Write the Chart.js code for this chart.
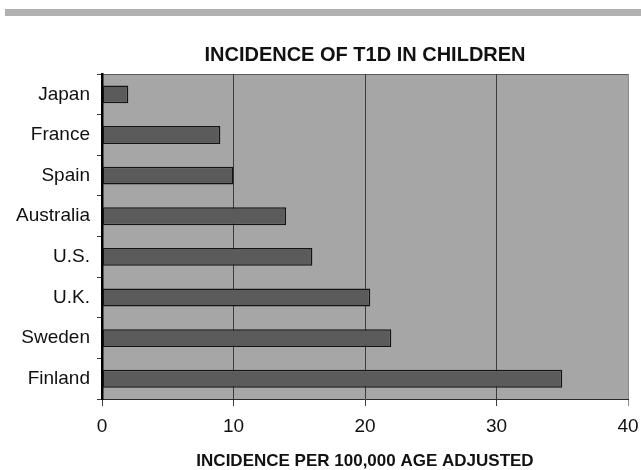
<!DOCTYPE html>
<html>
<head>
<meta charset="utf-8">
<script src="https://cdn.jsdelivr.net/npm/chart.js@4/dist/chart.umd.min.js"></script>
<style>
  html, body { margin: 0; padding: 0; background: #ffffff; }
  #wrap { position: relative; width: 641px; height: 470px; }
</style>
</head>
<body>
<div id="wrap"><canvas id="chart" width="641" height="470"></canvas></div>
<script>
// Type 1 diabetes incidence in children, per 100,000 (age adjusted)
const countries = ['Japan', 'France', 'Spain', 'Australia', 'U.S.', 'U.K.', 'Sweden', 'Finland'];
const incidence = [2, 9, 10, 14, 16, 20.4, 22, 35];
const xTicks = [0, 10, 20, 30, 40];
const chartTitle = 'INCIDENCE OF T1D IN CHILDREN';

const FONT = "'Liberation Sans', Arial, Helvetica, sans-serif";
const INK = '#111111';

// Header rule, grey plot panel with its top frame, and a title centred over the plot
const panelPlugin = {
  id: 'panel',
  beforeDraw(chart) {
    const ctx = chart.ctx;
    const a = chart.chartArea;
    ctx.save();
    ctx.fillStyle = '#b1b1b1';
    ctx.fillRect(5, 9, 636, 7);
    ctx.fillStyle = '#a6a6a6';
    ctx.fillRect(a.left, a.top, a.right - a.left, a.bottom - a.top);
    ctx.strokeStyle = '#5a5a5a';
    ctx.lineWidth = 1;
    ctx.beginPath();
    ctx.moveTo(a.left, a.top + 0.5);
    ctx.lineTo(a.right, a.top + 0.5);
    ctx.stroke();
    ctx.fillStyle = INK;
    ctx.font = 'bold 20px ' + FONT;
    ctx.textAlign = 'center';
    ctx.textBaseline = 'middle';
    ctx.fillText(chartTitle, (a.left + a.right) / 2, 55);
    ctx.restore();
  }
};

new Chart(document.getElementById('chart'), {
  type: 'bar',
  data: {
    labels: countries,
    datasets: [{
      data: incidence,
      backgroundColor: '#5b5b5b',
      borderColor: '#141414',
      borderWidth: 1.5,
      borderSkipped: false,
      barPercentage: 0.44,
      categoryPercentage: 1.0
    }]
  },
  options: {
    indexAxis: 'y',
    responsive: false,
    animation: false,
    layout: { padding: { left: 0, right: 13, top: 74, bottom: 0 } },
    plugins: {
      legend: { display: false },
      tooltip: { enabled: false },
      title: { display: false }
    },
    scales: {
      x: {
        min: 0,
        max: 40,
        afterBuildTicks(scale) { scale.ticks = xTicks.map(v => ({ value: v })); },
        afterFit(scale) {
          scale.height = 71;
          scale.paddingLeft = 0;
          scale.paddingRight = 0;
        },
        grid: {
          drawOnChartArea: true,
          drawTicks: true,
          tickLength: 7,
          lineWidth: 1,
          color: ctx => (ctx.tick && ctx.tick.value === 40) ? '#8a8a8a' : '#3c3c3c'
        },
        border: { display: true, color: '#2a2a2a', width: 1 },
        ticks: {
          color: INK,
          padding: 9.6,
          font: { family: FONT, size: 19, lineHeight: 1.2 }
        },
        title: {
          display: true,
          text: 'INCIDENCE PER 100,000 AGE ADJUSTED',
          color: INK,
          font: { family: FONT, size: 17, weight: 'bold', lineHeight: 1 },
          padding: { top: 0, bottom: 0.5 }
        }
      },
      y: {
        afterFit(scale) {
          scale.width = 102;
          scale.paddingTop = 0;
          scale.paddingBottom = 0;
        },
        grid: {
          offset: true,
          drawOnChartArea: false,
          drawTicks: true,
          tickLength: 5,
          color: '#3c3c3c'
        },
        border: { display: true, color: '#000000', width: 2.5 },
        ticks: {
          color: INK,
          padding: 7,
          font: { family: FONT, size: 19, lineHeight: 1.2 }
        }
      }
    }
  },
  plugins: [panelPlugin]
});
</script>
</body>
</html>
